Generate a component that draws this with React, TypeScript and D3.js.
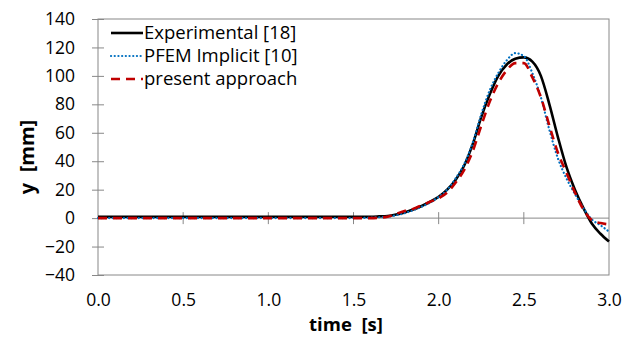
import { useEffect, useRef } from 'react';
import * as d3 from 'd3';

const times = [0, 0.5, 1.0, 1.5, 1.6, 1.65, 1.7, 1.75, 1.8, 1.85, 1.9, 1.95, 2.0, 2.05, 2.1, 2.15, 2.2, 2.25, 2.3, 2.35, 2.4, 2.45, 2.5, 2.55, 2.6, 2.65, 2.7, 2.75, 2.8, 2.85, 2.9, 2.95, 3.0];
const experimental = [1, 1, 1, 1, 1, 1.2, 1.5, 2.5, 4, 6, 8.5, 11.5, 15, 20, 27, 37, 52, 71, 87, 100, 108, 112, 113, 110, 100, 80, 57, 36, 20, 7, -4, -11, -16.5];
const pfemImplicit = [0, 0, 0, 0, 0.3, 0.6, 1, 2, 3.5, 5.5, 8, 11, 15, 20, 28, 38, 53, 73, 90, 102, 111, 116, 114, 102, 85, 62, 42, 28, 17, 7, -1, -5, -9.5];
const presentApproach = [0, 0, 0, 0, 0, 0.3, 1, 3, 5, 6.5, 9, 11.5, 14, 18, 25, 34, 47, 65, 82, 95, 104, 109, 109, 99, 85, 65, 46, 32, 18, 6, -1.5, -3.5, -4.5];

const xTicks = [0, 0.5, 1.0, 1.5, 2.0, 2.5, 3.0];
const yTicks = [-40, -20, 0, 20, 40, 60, 80, 100, 120, 140];

const seriesList = [
  { name: 'Experimental [18]', values: experimental, color: '#000000', width: 2.6, dash: null, cap: 'butt' },
  { name: 'PFEM Implicit [10]', values: pfemImplicit, color: '#0070C0', width: 2.2, dash: '0.1,3.6', cap: 'round' },
  { name: 'present approach', values: presentApproach, color: '#C00000', width: 2.6, dash: '9,6', cap: 'butt' },
];

export default function App() {
  const svgRef = useRef<SVGSVGElement>(null);

  useEffect(() => {
    const svg = d3.select(svgRef.current);
    svg.selectAll('*').remove();

    const width = 633;
    const height = 338;
    const margin = { top: 19, right: 24, bottom: 63, left: 98 };
    const w = width - margin.left - margin.right;
    const h = height - margin.top - margin.bottom;
    const font = '"Open Sans", "Noto Sans", sans-serif';

    svg.attr('width', width).attr('height', height);

    const g = svg.append('g').attr('transform', `translate(${margin.left},${margin.top})`);

    const x = d3.scaleLinear().domain([0, 3]).range([0, w]);
    const y = d3.scaleLinear().domain([-40, 140]).range([h, 0]);

    // plot area frame
    g.append('rect')
      .attr('x', 0).attr('y', 0)
      .attr('width', w).attr('height', h)
      .attr('fill', 'none')
      .attr('stroke', '#888')
      .attr('stroke-width', 1);

    // Y axis
    const yAxis = g.append('g')
      .call(d3.axisLeft(y).tickValues(yTicks).tickSize(6).tickPadding(17).tickFormat(d3.format('d')));
    yAxis.select('.domain').remove();
    yAxis.selectAll('.tick line').attr('x2', 6).attr('x1', -6).attr('stroke', '#888');

    // X axis at y = 0
    g.append('line')
      .attr('x1', 0).attr('x2', w)
      .attr('y1', y(0)).attr('y2', y(0))
      .attr('stroke', '#888');
    g.append('g')
      .selectAll('line')
      .data(xTicks.slice(1, -1))
      .join('line')
      .attr('x1', d => x(d)).attr('x2', d => x(d))
      .attr('y1', y(0) - 6).attr('y2', y(0) + 6)
      .attr('stroke', '#888');

    const xAxis = g.append('g')
      .attr('transform', `translate(0,${h})`)
      .call(d3.axisBottom(x).tickValues(xTicks).tickSize(0).tickPadding(19).tickFormat(d3.format('.1f')));
    xAxis.select('.domain').remove();

    svg.selectAll('.tick text')
      .attr('fill', '#000')
      .attr('font-family', font)
      .attr('font-size', '17.5px');

    // lines
    const line = d3.line<number>()
      .x((_, i) => x(times[i]))
      .y(d => y(d))
      .curve(d3.curveMonotoneX);

    seriesList.forEach(s => {
      g.append('path')
        .datum(s.values)
        .attr('fill', 'none')
        .attr('stroke', s.color)
        .attr('stroke-width', s.width)
        .attr('stroke-dasharray', s.dash)
        .attr('stroke-linecap', s.cap)
        .attr('d', line);
    });

    // legend
    const legend = g.append('g').attr('transform', 'translate(13,14)');
    seriesList.forEach((s, i) => {
      const row = legend.append('g').attr('transform', `translate(0,${i * 23})`);
      row.append('line')
        .attr('x1', 0).attr('x2', 32)
        .attr('y1', 0).attr('y2', 0)
        .attr('stroke', s.color)
        .attr('stroke-width', s.width)
        .attr('stroke-dasharray', s.dash)
        .attr('stroke-linecap', s.cap);
      row.append('text')
        .attr('x', 33)
        .attr('y', 0)
        .attr('dy', '0.35em')
        .attr('font-family', font)
        .attr('font-size', '18.5px')
        .attr('fill', '#000')
        .text(s.name);
    });

    // axis titles
    svg.append('text')
      .attr('x', 346)
      .attr('y', 331)
      .attr('text-anchor', 'middle')
      .attr('font-family', font)
      .attr('font-weight', 'bold')
      .attr('font-size', '18.5px')
      .style('white-space', 'pre')
      .text('time  [s]');

    svg.append('text')
      .attr('transform', 'translate(34,157) rotate(-90)')
      .attr('text-anchor', 'middle')
      .attr('font-family', font)
      .attr('font-weight', 'bold')
      .attr('font-size', '20px')
      .style('white-space', 'pre')
      .text('y  [mm]');
  }, []);

  return (
    <svg ref={svgRef} style={{ position: 'absolute', left: 0, top: 0, display: 'block', background: '#fff' }} />
  );
}
